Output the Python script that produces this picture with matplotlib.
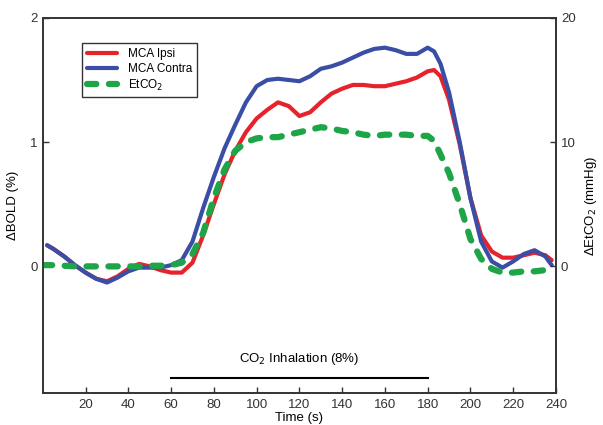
import matplotlib
matplotlib.use("Agg")
import matplotlib.pyplot as plt

plt.rcParams["font.family"] = ["Liberation Sans", "DejaVu Sans"]

# time points (s)
t = [2, 5, 10, 15, 20, 25, 30, 35, 40, 45, 50, 55, 60, 65, 70, 75, 80, 85, 90, 95,
     100, 105, 110, 115, 120, 125, 130, 135, 140, 145, 150, 155, 160, 165, 170, 175,
     180, 183, 186, 190, 195, 200, 205, 210, 215, 220, 225, 230, 235, 238]

# MCA ipsi, dBOLD (%)
ipsi = [0.17, 0.14, 0.08, 0.01, -0.05, -0.10, -0.12, -0.08, -0.02, 0.02, 0.0, -0.03,
        -0.05, -0.05, 0.03, 0.25, 0.50, 0.74, 0.93, 1.08, 1.19, 1.26, 1.32, 1.29, 1.21,
        1.24, 1.32, 1.39, 1.43, 1.46, 1.46, 1.45, 1.45, 1.47, 1.49, 1.52, 1.57, 1.58,
        1.53, 1.34, 0.98, 0.55, 0.25, 0.12, 0.07, 0.07, 0.09, 0.11, 0.09, 0.05]

# MCA contra, dBOLD (%)
contra = [0.17, 0.14, 0.08, 0.01, -0.05, -0.10, -0.13, -0.09, -0.04, -0.01, -0.01, -0.01,
          0.01, 0.05, 0.20, 0.47, 0.72, 0.95, 1.14, 1.32, 1.45, 1.50, 1.51, 1.50, 1.49,
          1.53, 1.59, 1.61, 1.64, 1.68, 1.72, 1.75, 1.76, 1.74, 1.71, 1.71, 1.76, 1.73,
          1.63, 1.40, 1.00, 0.55, 0.20, 0.04, -0.01, 0.04, 0.10, 0.13, 0.08, 0.01]

# EtCO2 change (mmHg)
t_co2 = [0, 5, 10, 15, 20, 25, 30, 35, 40, 45, 50, 55, 60, 65, 70, 75, 80, 85, 90, 95,
         100, 105, 110, 115, 120, 125, 130, 135, 140, 145, 150, 155, 160, 165, 170, 175,
         180, 183, 186, 190, 195, 200, 205, 210, 215, 220, 225, 230, 235, 238]
etco2 = [0.1, 0.1, 0.05, 0.0, 0.0, 0.0, 0.0, 0.0, 0.0, 0.0, 0.05, 0.05, 0.1, 0.3, 1.0,
         2.7, 5.5, 7.8, 9.3, 10.0, 10.3, 10.4, 10.4, 10.6, 10.8, 11.0, 11.2, 11.1, 10.9,
         10.8, 10.6, 10.5, 10.6, 10.6, 10.6, 10.5, 10.5, 10.1, 9.0, 7.5, 5.0, 2.2, 0.6,
         -0.2, -0.5, -0.5, -0.4, -0.4, -0.3, -0.2]

red = "#e6232b"
blue = "#3a4ea6"
green = "#1ea548"

fig = plt.figure(figsize=(6.03, 4.25), dpi=100)
ax = fig.add_axes([0.071, 0.075, 0.851, 0.883])
ax2 = ax.twinx()

l1, = ax.plot(t, ipsi, color=red, lw=3, solid_capstyle="round",
              solid_joinstyle="round", label="MCA Ipsi")
l2, = ax.plot(t, contra, color=blue, lw=3, solid_capstyle="round",
              solid_joinstyle="round", label="MCA Contra")
l3, = ax2.plot(t_co2, etco2, color=green, lw=4.5, dashes=(1.5, 2.0),
               dash_capstyle="round", label="EtCO$_2$")

ax.set_xlim(0, 240)
ax.set_ylim(-1.02, 2.0)
ax2.set_ylim(-10.2, 20.0)

ax.set_xticks(range(20, 241, 20))
ax.set_yticks([0, 1, 2])
ax2.set_yticks([0, 10, 20])
for a in (ax, ax2):
    a.tick_params(direction="in", length=4, width=1, labelsize=9.5, colors="#333333")
    for s in a.spines.values():
        s.set_linewidth(1.2)
        s.set_color("#333333")
ax.tick_params(axis="x", pad=4)

ax.set_xlabel("Time (s)", fontsize=9.5, labelpad=1)
ax.set_ylabel("\u0394BOLD (%)", fontsize=9.5, labelpad=8)
ax2.set_ylabel("\u0394EtCO$_2$ (mmHg)", fontsize=9.5, rotation=90, labelpad=5)

# CO2 inhalation bar
ax.plot([60, 180], [-0.9, -0.9], color="black", lw=1.5)
ax.text(120, -0.81, "CO$_2$ Inhalation (8%)", ha="center", va="bottom", fontsize=9.5)

leg = ax.legend(handles=[l1, l2, l3], loc="upper left", bbox_to_anchor=(0.076, 0.933),
                borderaxespad=0, fontsize=8.5, handlelength=2.6, handletextpad=0.9,
                labelspacing=0.25, fancybox=False, framealpha=1, edgecolor="#333333")
leg.get_frame().set_linewidth(1.0)

fig.savefig("out.png", dpi=100)
